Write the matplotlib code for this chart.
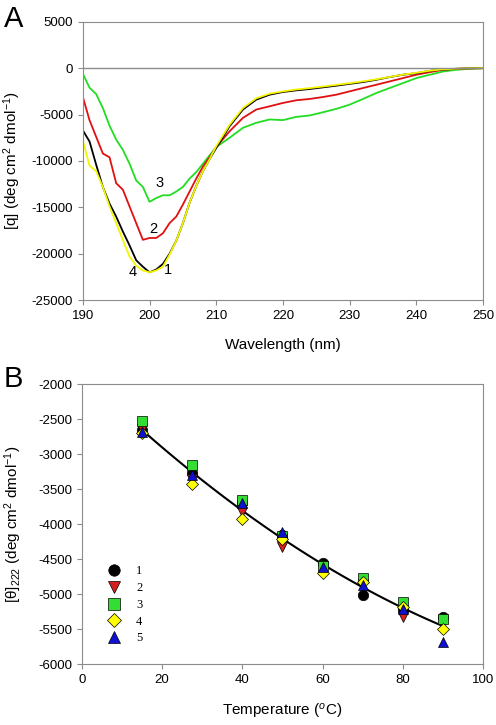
import numpy as np
import matplotlib.pyplot as plt

plt.rcParams["font.family"] = ["Liberation Sans", "DejaVu Sans"]
plt.rcParams["mathtext.fontset"] = "custom"
plt.rcParams["mathtext.rm"] = "Liberation Sans"
plt.rcParams["mathtext.it"] = "Liberation Sans:italic"
plt.rcParams["axes.unicode_minus"] = False

# ---- panel A: CD spectra ----
wavelength = [190, 191, 192, 193, 194, 195, 196, 197, 198, 199, 200,
              201, 202, 203, 204, 205, 206, 207, 208, 209, 210,
              212, 214, 216, 218, 220, 222, 224, 226, 228, 230,
              232, 234, 236, 238, 240, 242, 244, 246, 248, 250]

spec1 = [-6700, -7900, -10400, -12800, -14600, -16000, -17600, -19100, -20700, -21400, -22000,
         -21700, -21100, -20000, -18600, -16700, -14500, -12700, -11100, -9800, -8600,
         -6250, -4460, -3390, -2860, -2570, -2390, -2250, -2070, -1890, -1690,
         -1500, -1250, -960, -710, -540, -290, -140, -70, -20, 0]
spec2 = [-3100, -5600, -7400, -9200, -9600, -12400, -13100, -14900, -16700, -18500, -18300,
         -18300, -17800, -16700, -16000, -14700, -13300, -11900, -10600, -9600, -8500,
         -6800, -5360, -4460, -4110, -3750, -3460, -3320, -3110, -2860, -2500,
         -2140, -1790, -1430, -1070, -710, -430, -180, -70, -20, 0]
spec3 = [-600, -2100, -2800, -4300, -6200, -7700, -8800, -10300, -12100, -12800, -14400,
         -14000, -13700, -13700, -13300, -12800, -11900, -11200, -10300, -9400, -8500,
         -7500, -6430, -5890, -5530, -5600, -5250, -5100, -4750, -4390, -3930,
         -3320, -2680, -2140, -1610, -1070, -710, -360, -180, -70, 0]
spec4 = [-7800, -10500, -11100, -12800, -14900, -16700, -18500, -20300, -21300, -21800, -22000,
         -21800, -21400, -20100, -18600, -16700, -14500, -12700, -11100, -9800, -8400,
         -6100, -4300, -3250, -2750, -2500, -2300, -2150, -1980, -1800, -1620,
         -1420, -1200, -950, -700, -500, -280, -120, -60, -20, 0]
curve_labels = ["1", "2", "3", "4"]
curve_label_pos = [(202.7, -21700), (200.6, -17300), (201.5, -12400), (197.5, -22000)]

# ---- panel B: thermal melt at 222 nm ----
temps = [15, 27.5, 40, 50, 60, 70, 80, 90]
melt1 = [-2650, -3270, -3700, -4150, -4550, -5010, -5230, -5320]
melt2 = [-2640, -3350, -3830, -4330, -4650, -4850, -5330, -5400]
melt3 = [-2530, -3160, -3650, -4170, -4600, -4770, -5110, -5360]
melt4 = [-2700, -3430, -3930, -4210, -4700, -4830, -5190, -5500]
melt5 = [-2680, -3300, -3700, -4110, -4610, -4870, -5210, -5680]

GRAY = "#8c8c8c"
TICK_FS = 9.5
LABEL_FS = 11

fig = plt.figure(figsize=(4.96, 7.25), dpi=100)

# panel A
ax1 = fig.add_axes([0.167, 0.586, 0.807, 0.384])
ax1.plot(wavelength, spec3, color="#22dd22", lw=1.3)
ax1.plot(wavelength, spec2, color="#e01010", lw=1.3)
ax1.plot(wavelength, spec1, color="black", lw=1.3)
ax1.plot(wavelength, spec4, color="#f5f500", lw=1.3)
ax1.axhline(0, color=GRAY, lw=1)
ax1.set_xlim(190, 250)
ax1.set_ylim(-25000, 5000)
ax1.set_xticks(range(190, 251, 10))
ax1.set_yticks(range(-25000, 5001, 5000))
ax1.set_xlabel("Wavelength (nm)", fontsize=LABEL_FS)
ax1.set_ylabel("[q] (deg cm$^2$ dmol$^{-1}$)", fontsize=LABEL_FS)
ax1.xaxis.set_label_coords(0.5, -0.135)
ax1.yaxis.set_label_coords(-0.15, 0.5)
for txt, (x, y) in zip(curve_labels, curve_label_pos):
    ax1.text(x, y, txt, fontsize=10.5, ha="center", va="center")
fig.text(0.008, 0.993, "A", fontsize=21, va="top")

# panel B
ax2 = fig.add_axes([0.165, 0.084, 0.809, 0.386])
all_t = np.array(temps * 5)
all_y = np.array(melt1 + melt2 + melt3 + melt4 + melt5)
coef = np.polyfit(all_t, all_y, 2)
tt = np.linspace(min(temps), max(temps), 100)
ax2.plot(tt, np.polyval(coef, tt), color="black", lw=1.5, zorder=2)

styles = [
    (melt1, "o", "black", "1"),
    (melt2, "v", "#d42020", "2"),
    (melt3, "s", "#33dd33", "3"),
    (melt4, "D", "#ffff00", "4"),
    (melt5, "^", "#1010d0", "5"),
]
for vals, m, c, lab in styles:
    ms = 6.5 if m == "D" else 7.5
    ax2.plot(temps, vals, linestyle="none", marker=m, markersize=ms,
             markerfacecolor=c, markeredgecolor="black", markeredgewidth=0.5,
             label=lab, zorder=3)

ax2.set_xlim(0, 100)
ax2.set_ylim(-6000, -2000)
ax2.set_xticks(range(0, 101, 20))
ax2.set_yticks(range(-6000, -1999, 500))
ax2.set_xlabel("Temperature ($^{o}$C)", fontsize=LABEL_FS)
ax2.set_ylabel("[θ]$_{222}$ (deg cm$^2$ dmol$^{-1}$)", fontsize=LABEL_FS)
ax2.xaxis.set_label_coords(0.5, -0.135)
ax2.yaxis.set_label_coords(-0.145, 0.5)
leg = ax2.legend(loc="lower left", bbox_to_anchor=(0.02, 0.03), frameon=False,
                 prop={"family": "Liberation Serif", "size": 9},
                 handletextpad=0.8, labelspacing=0.38, markerscale=1.1)
fig.text(0.008, 0.497, "B", fontsize=21, va="top")

for ax in (ax1, ax2):
    for sp in ax.spines.values():
        sp.set_color(GRAY)
    ax.tick_params(labelsize=TICK_FS, color=GRAY, length=3.5, direction="out")

fig.savefig("out.png", dpi=100)
